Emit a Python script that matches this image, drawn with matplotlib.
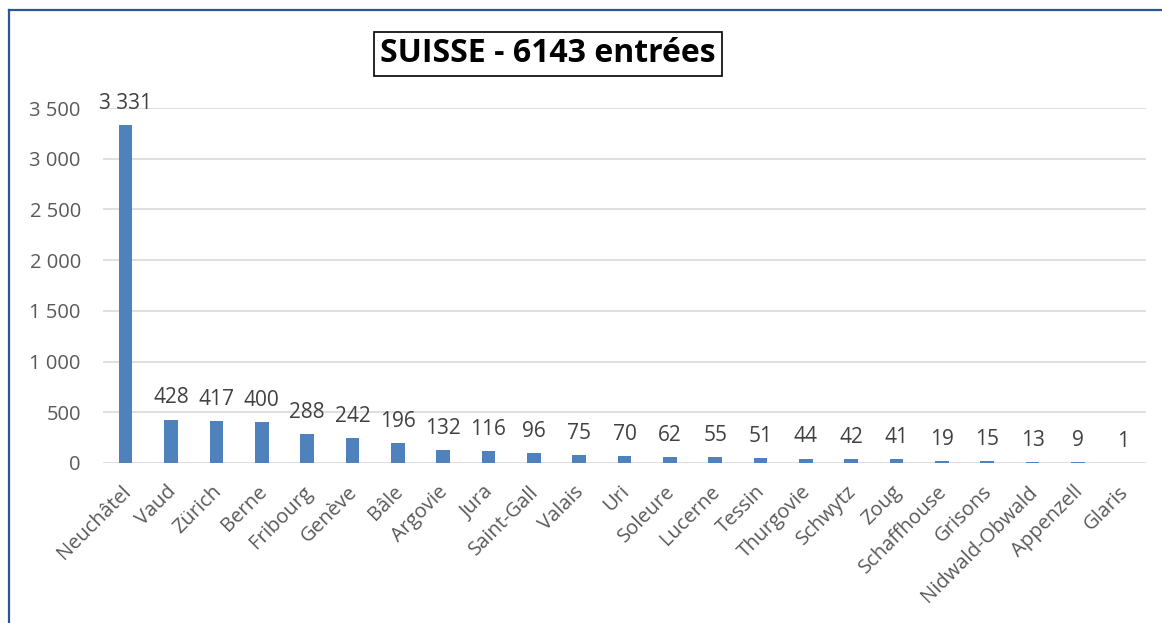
import matplotlib
matplotlib.use("Agg")
import matplotlib.pyplot as plt
from matplotlib.lines import Line2D
from matplotlib.ticker import FuncFormatter
from matplotlib.transforms import ScaledTranslation

categories = ["Neuchâtel", "Vaud", "Zürich", "Berne", "Fribourg", "Genève", "Bâle",
              "Argovie", "Jura", "Saint-Gall", "Valais", "Uri", "Soleure", "Lucerne",
              "Tessin", "Thurgovie", "Schwytz", "Zoug", "Schaffhouse", "Grisons",
              "Nidwald-Obwald", "Appenzell", "Glaris"]
values = [3331, 428, 417, 400, 288, 242, 196, 132, 116, 96, 75, 70, 62, 55,
          51, 44, 42, 41, 19, 15, 13, 9, 1]
title = "SUISSE - 6143 entrées"
yticks = [0, 500, 1000, 1500, 2000, 2500, 3000, 3500]

plt.rcParams['font.family'] = ['Open Sans', 'DejaVu Sans']

fig = plt.figure(figsize=(11.62, 6.23), dpi=100)
ax = fig.add_axes([103/1162, 1-463/623, (1146-103)/1162, (463-108)/623])

x = list(range(len(categories)))
ax.bar(x, values, width=0.3, color="#4F81BD", zorder=3)
ax.set_xlim(-0.5, len(categories)-0.5)
ax.set_ylim(0, 3500)
ax.set_yticks(yticks)
ax.yaxis.set_major_formatter(FuncFormatter(lambda v, p: f"{int(v):,}".replace(",", " ")))
ax.grid(axis='y', color="#D9D9D9", linewidth=1.2, zorder=0)
for s in ax.spines.values():
    s.set_visible(False)
ax.tick_params(axis='both', length=0, labelsize=14.5, colors="#595959")
ax.tick_params(axis='y', pad=16)
ax.tick_params(axis='x', pad=5)
ax.set_xticks(x)
ax.set_xticklabels(categories, rotation=45, ha='right', rotation_mode='anchor')
shift = ScaledTranslation(-0.05, -0.12, fig.dpi_scale_trans)
for lbl in ax.get_xticklabels():
    lbl.set_transform(lbl.get_transform() + shift)

for xi, v in zip(x, values):
    ax.annotate(f"{v:,}".replace(",", " "), (xi, v), xytext=(0, 8), textcoords='offset points',
                ha='center', va='bottom', fontsize=15, color="#404040")

fig.text(548/1162, 1-54/623, title, ha='center', va='center', fontsize=23, fontweight='bold',
         color='black', bbox=dict(boxstyle='square,pad=0.18', facecolor='white', edgecolor='black', linewidth=1.2))

fig.add_artist(Line2D([9/1162, 1.0], [1-10/623, 1-10/623], transform=fig.transFigure, color="#2F5496", linewidth=1.6))
fig.add_artist(Line2D([9/1162, 9/1162], [0, 1-10/623], transform=fig.transFigure, color="#2F5496", linewidth=1.6))

fig.savefig("out.png", dpi=100)
